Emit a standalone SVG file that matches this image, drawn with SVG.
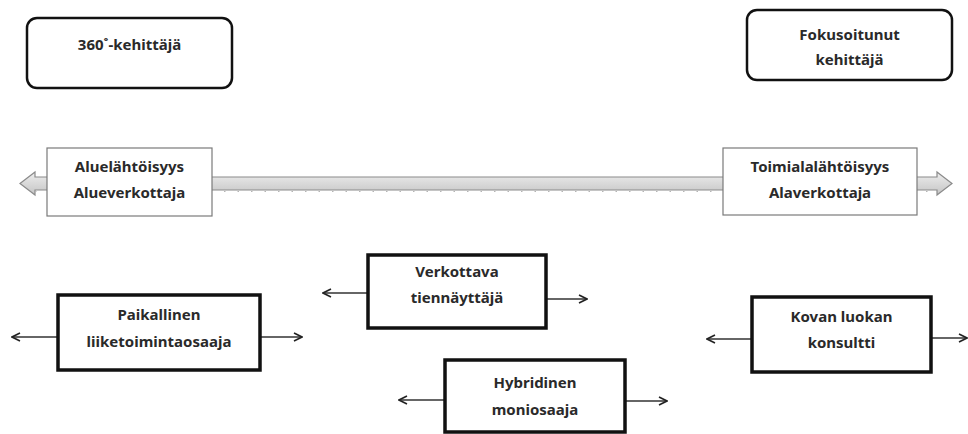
<svg xmlns="http://www.w3.org/2000/svg" width="968" height="434" viewBox="0 0 968 434">
<defs>
<linearGradient id="barg" x1="0" y1="0" x2="0" y2="1">
<stop offset="0" stop-color="#eeeeee"/>
<stop offset="0.5" stop-color="#d9d9d9"/>
<stop offset="1" stop-color="#c4c4c4"/>
</linearGradient>
<marker id="ah" viewBox="0 0 10 10" refX="9" refY="5" markerWidth="10" markerHeight="10" markerUnits="userSpaceOnUse" orient="auto">
<path d="M1,1 L9,5 L1,9" fill="none" stroke="#222" stroke-width="1.6"/>
</marker>
<style>
text{font-family:"Noto Sans","Liberation Sans",sans-serif;font-weight:bold;font-size:15px;fill:#2a2a2a;text-anchor:middle}
.rnd{fill:#fff;stroke:#111;stroke-width:2.5}
.thin{fill:#fff;stroke:#7a7a7a;stroke-width:1.2}
.thick{fill:#fff;stroke:#111;stroke-width:3.5}
.con{stroke:#333;stroke-width:1.4;fill:none;marker-end:url(#ah)}
</style>
</defs>
<rect width="968" height="434" fill="#fff"/>
<g id="axis">
<path d="M20,183.5 L35,172 L35,177 L937,177 L937,172 L952,183.5 L937,195 L937,190 L35,190 L35,195 Z" fill="url(#barg)" stroke="#8a8a8a" stroke-width="1.2"/>
<line x1="35" y1="191.5" x2="937" y2="191.5" stroke="#b5b5b5" stroke-width="1.2" stroke-dasharray="1.5,12"/>
</g>
<g id="connectors">
<line class="con" x1="58" y1="337" x2="12" y2="337"/>
<line class="con" x1="260" y1="337" x2="302" y2="337"/>
<line class="con" x1="368" y1="293" x2="323" y2="293"/>
<line class="con" x1="546" y1="299" x2="587" y2="299"/>
<line class="con" x1="445" y1="400" x2="399" y2="400"/>
<line class="con" x1="625" y1="401" x2="667" y2="401"/>
<line class="con" x1="752" y1="339" x2="707" y2="339"/>
<line class="con" x1="931" y1="338" x2="967" y2="338"/>
</g>
<g id="n360">
<rect class="rnd" x="27" y="18" width="205" height="70" rx="10"/>
<text x="129.5" y="50">360˚-kehittäjä</text>
</g>
<g id="nfokus">
<rect class="rnd" x="747" y="10" width="205" height="70" rx="10"/>
<text x="849.5" y="40">Fokusoitunut</text>
<text x="849.5" y="65">kehittäjä</text>
</g>
<g id="nalue">
<rect class="thin" x="47" y="148" width="165" height="68"/>
<text x="129.5" y="172">Aluelähtöisyys</text>
<text x="129.5" y="198">Alueverkottaja</text>
</g>
<g id="ntoimiala">
<rect class="thin" x="723" y="148" width="194" height="67"/>
<text x="820" y="172">Toimialalähtöisyys</text>
<text x="820" y="198">Alaverkottaja</text>
</g>
<g id="npaikallinen">
<rect class="thick" x="58" y="295" width="202" height="75"/>
<text x="159" y="320">Paikallinen</text>
<text x="159" y="347">liiketoimintaosaaja</text>
</g>
<g id="nverkottava">
<rect class="thick" x="368" y="255" width="178" height="73"/>
<text x="457" y="277">Verkottava</text>
<text x="457" y="303">tiennäyttäjä</text>
</g>
<g id="nhybridinen">
<rect class="thick" x="445" y="360" width="180" height="72"/>
<text x="535" y="388">Hybridinen</text>
<text x="535" y="415">moniosaaja</text>
</g>
<g id="nkovan">
<rect class="thick" x="752" y="297" width="179" height="75"/>
<text x="841.5" y="322">Kovan luokan</text>
<text x="841.5" y="348">konsultti</text>
</g>
</svg>
